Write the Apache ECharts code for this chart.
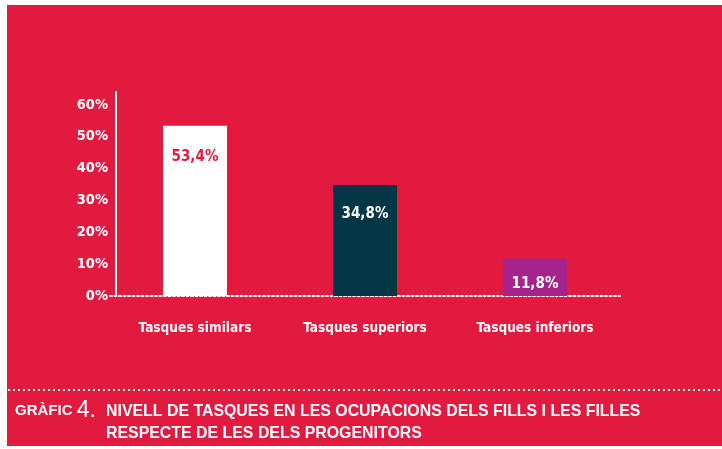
<!DOCTYPE html>
<html>
<head>
<meta charset="utf-8">
<script src="https://cdn.jsdelivr.net/npm/echarts@6/dist/echarts.min.js"></script>
<style>
html,body{margin:0;padding:0;background:#fff;}
#chart{width:722px;height:449px;}
</style>
</head>
<body>
<div id="chart"></div>
<script>
const categories = ['Tasques similars', 'Tasques superiors', 'Tasques inferiors'];
const values = [53.4, 34.8, 11.8];
const valueLabels = ['53,4%', '34,8%', '11,8%'];
const yTicks = [0, 10, 20, 30, 40, 50, 60];
const titleLine1 = 'NIVELL DE TASQUES EN LES OCUPACIONS DELS FILLS I LES FILLES';
const titleLine2 = 'RESPECTE DE LES DELS PROGENITORS';

const barColors = ['#ffffff', '#033745', '#a5238b'];
const labelColors = ['#e31a3f', '#ffffff', '#ffffff'];
const labelDistances = [24, 22, 18];
const RED = '#e31a3f';
const NARROW = '"DejaVu Sans Condensed", "Liberation Sans Narrow", sans-serif';
const SANS = '"Liberation Sans", Arial, sans-serif';

const chart = echarts.init(document.getElementById('chart'), null, {renderer: 'canvas'});
chart.setOption({
  backgroundColor: '#ffffff',
  animation: false,
  graphic: [
    {type: 'rect', z: -10, shape: {x: 7, y: 5, width: 715, height: 441}, style: {fill: RED}, silent: true},
    {type: 'line', shape: {x1: 8, y1: 390, x2: 722, y2: 390}, style: {stroke: '#ffffff', lineWidth: 2, lineDash: [2, 3]}, silent: true}
  ],
  title: [
    {
      left: 15, top: 400, padding: 0,
      text: '{a|GRÀFIC }{b|4.}',
      textStyle: {
        rich: {
          a: {fontFamily: SANS, fontWeight: 'bold', fontSize: 15, color: '#fff', lineHeight: 21},
          b: {fontFamily: SANS, fontWeight: 'normal', fontSize: 23, color: '#fff', lineHeight: 21}
        }
      }
    },
    {
      left: 106, top: 401, padding: 0,
      text: titleLine1 + '\n' + titleLine2,
      textStyle: {fontFamily: SANS, fontWeight: 'bold', fontSize: 15.9, color: '#fff', lineHeight: 22}
    }
  ],
  grid: {left: 110, width: 510, top: 92, height: 204},
  xAxis: {
    type: 'category',
    data: categories,
    axisLine: {show: true, lineStyle: {color: '#fff', width: 2, type: [2, 2.5]}},
    axisTick: {show: false},
    axisLabel: {interval: 0, color: '#fff', fontFamily: NARROW, fontWeight: 'bold', fontSize: 13.5, margin: 25}
  },
  yAxis: {
    type: 'value',
    min: 0, max: 64, interval: 10,
    offset: -6,
    splitLine: {show: false},
    axisTick: {show: false},
    axisLine: {show: true, lineStyle: {color: '#fff', width: 2}},
    axisLabel: {
      color: '#fff', fontFamily: NARROW, fontWeight: 'bold', fontSize: 14.5, margin: 8,
      formatter: function (v) { return yTicks.indexOf(v) >= 0 ? v + '%' : ''; }
    }
  },
  series: [{
    type: 'bar',
    barWidth: 64,
    data: values.map(function (v, i) {
      return {
        value: v,
        itemStyle: {color: barColors[i]},
        label: {
          show: true, position: 'insideTop', distance: labelDistances[i],
          formatter: valueLabels[i], color: labelColors[i],
          fontFamily: NARROW, fontWeight: 'bold', fontSize: 15
        }
      };
    })
  }]
});
</script>
</body>
</html>
